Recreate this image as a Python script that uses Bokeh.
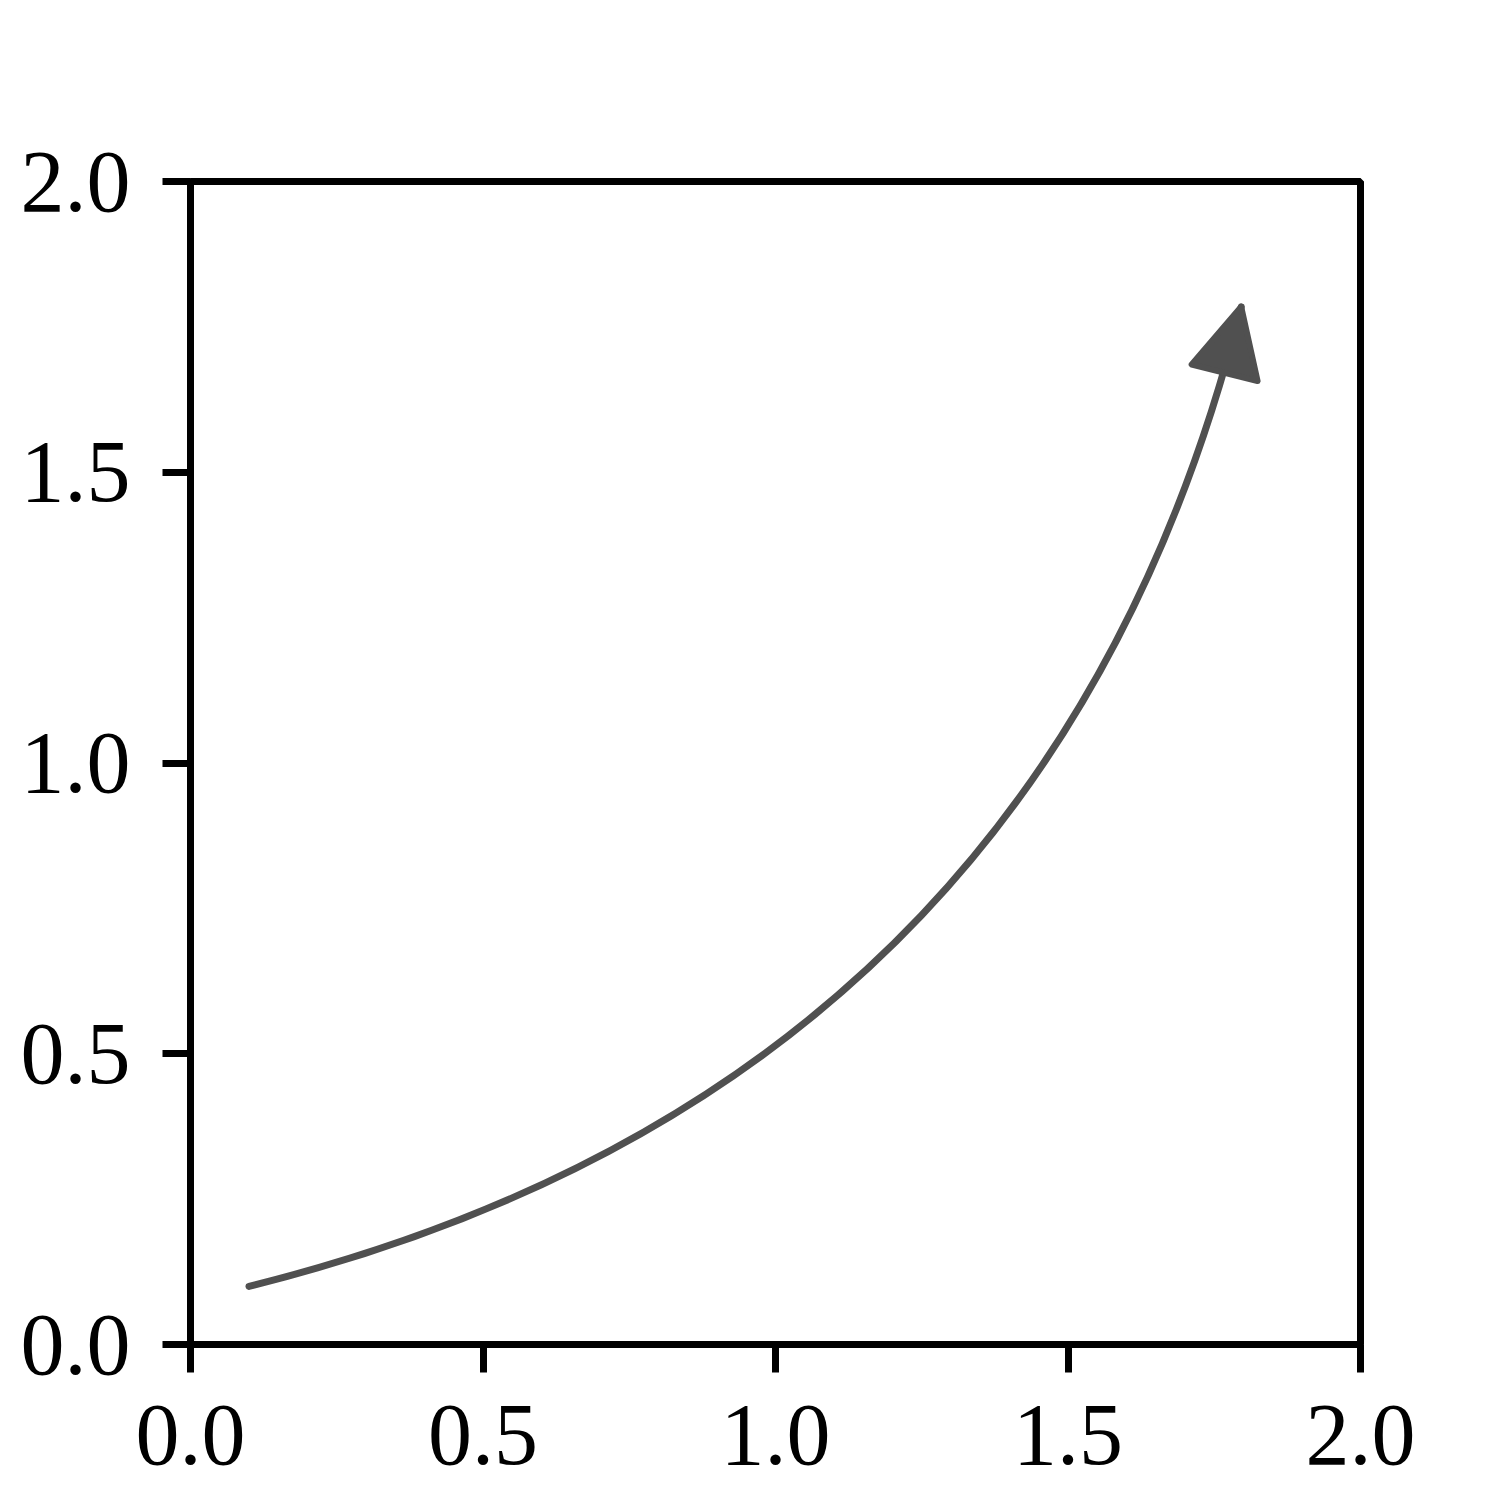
import math
from bokeh.plotting import figure
from bokeh.models import Range1d, FixedTicker, Arrow, NormalHead, CustomJSTickFormatter
from bokeh.embed import file_html
from bokeh.resources import INLINE

# data
x_ticks = [0.0, 0.5, 1.0, 1.5, 2.0]
y_ticks = [0.0, 0.5, 1.0, 1.5, 2.0]
arrow_start = (0.1, 0.1)
arrow_end = (1.8, 1.8)
arc_rad = 0.3
tip_shrink = 0.016   # data units the tip is pulled back along its tangent
arrow_color = "#505050"

# arc3 control point
mx = (arrow_start[0] + arrow_end[0]) / 2
my = (arrow_start[1] + arrow_end[1]) / 2
dx = arrow_end[0] - arrow_start[0]
dy = arrow_end[1] - arrow_start[1]
cx = mx + arc_rad * dy
cy = my - arc_rad * dx
tx, ty = arrow_end[0] - cx, arrow_end[1] - cy
tl = math.hypot(tx, ty)
ex = arrow_end[0] - tip_shrink * tx / tl
ey = arrow_end[1] - tip_shrink * ty / tl

p = figure(frame_width=1170, frame_height=1163,
           min_border_left=190, min_border_top=181,
           min_border_bottom=150, min_border_right=120,
           x_range=Range1d(0, 2), y_range=Range1d(0, 2),
           output_backend="svg", toolbar_location=None)
p.grid.visible = False
p.outline_line_color = "black"
p.outline_line_width = 7
p.background_fill_color = "white"
p.border_fill_color = "white"

p.quadratic(x0=[arrow_start[0]], y0=[arrow_start[1]], x1=[ex], y1=[ey],
            cx=[cx], cy=[cy], line_color=arrow_color, line_width=7,
            line_cap="round")

head = NormalHead(size=68, fill_color=arrow_color, line_color=arrow_color,
                  line_width=6, line_join="round")
p.add_layout(Arrow(end=head, x_start=cx, y_start=cy, x_end=ex, y_end=ey,
                   line_alpha=0, line_width=0))

fmt = CustomJSTickFormatter(code="return tick.toFixed(1);")
for ax, ticks in ((p.xaxis[0], x_ticks), (p.yaxis[0], y_ticks)):
    ax.ticker = FixedTicker(ticks=ticks)
    ax.formatter = fmt
    ax.minor_tick_line_color = None
    ax.axis_line_width = 7
    ax.axis_line_color = "black"
    ax.major_tick_line_width = 7
    ax.major_tick_line_color = "black"
    ax.major_tick_out = 28
    ax.major_tick_in = 0
    ax.major_label_text_font = "Liberation Serif"
    ax.major_label_text_font_size = "88px"
    ax.major_label_text_color = "black"

p.xaxis[0].major_label_standoff = 33
p.yaxis[0].major_label_standoff = 32

open("out.html", "w").write(file_html(p, INLINE))
